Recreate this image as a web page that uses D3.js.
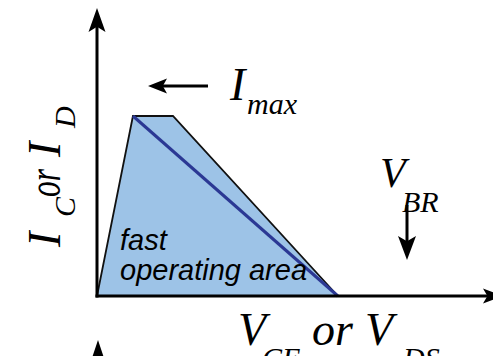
<!DOCTYPE html>
<html>
<head>
<meta charset="utf-8">
<script src="https://cdn.jsdelivr.net/npm/d3@7"></script>
<style>
  body { margin: 0; background: #fff; }
  .serif { font-family: "Liberation Serif", "Times New Roman", serif; font-style: italic; }
  .sans { font-family: "Liberation Sans", Arial, sans-serif; font-style: italic; }
</style>
</head>
<body>
<svg id="soa" width="493" height="356"></svg>
<script>
// safe operating area outline (V normalised to V_BR, I normalised to I_max)
const soaV = [0, 0.116, 0.245, 0.777];
const soaI = [0, 1, 1, 0];
// fast switching trajectory
const fastV = [0.116, 0.777];
const fastI = [1, 0];
const axisMax = { v: 1.3, i: 1.6 };

const svg = d3.select("svg#soa");
const x = d3.scaleLinear().domain([0, 1]).range([97, 407]);
const y = d3.scaleLinear().domain([0, 1]).range([296, 116]);

const line = d3.line().x(d => x(d[0])).y(d => y(d[1]));

// area
svg.append("path")
  .attr("d", line(d3.zip(soaV, soaI)) + "Z")
  .attr("fill", "#9dc3e7")
  .attr("stroke", "#111")
  .attr("stroke-width", 1.8)
  .attr("stroke-linejoin", "miter");

svg.append("path")
  .attr("d", line(d3.zip(fastV, fastI)))
  .attr("stroke", "#2b3894")
  .attr("stroke-width", 3)
  .attr("fill", "none");

// arrow head: tip at (tx,ty), pointing in angle a (deg), length L, half width w
function head(tx, ty, a, L, w) {
  const r = a * Math.PI / 180;
  const c = Math.cos(r), s = Math.sin(r);
  const pt = (u, v) => [tx - u * c - v * s, ty - u * s + v * c];
  const p = [pt(0, 0), pt(L, -w), pt(L * 0.78, 0), pt(L, w)];
  svg.append("path").attr("d", "M" + p.join("L") + "Z").attr("fill", "#000");
}

// axes
svg.append("line").attr("x1", x(0)).attr("x2", x(0))
  .attr("y1", y(0) + 1.5).attr("y2", y(axisMax.i) + 10)
  .attr("stroke", "#000").attr("stroke-width", 3);
head(x(0), y(axisMax.i), -90, 24, 8.5);

svg.append("line").attr("x1", x(0) - 1.5).attr("x2", x(axisMax.v) - 10)
  .attr("y1", y(0)).attr("y2", y(0))
  .attr("stroke", "#000").attr("stroke-width", 3);
head(x(axisMax.v) + 3, y(0), 0, 20, 7.5);

// I_max pointer
svg.append("line").attr("x1", 160).attr("x2", 208).attr("y1", 86).attr("y2", 86)
  .attr("stroke", "#000").attr("stroke-width", 3);
head(148, 86, 180, 19, 7.5);

// V_BR pointer
svg.append("line").attr("x1", x(1)).attr("x2", x(1)).attr("y1", 205).attr("y2", 250)
  .attr("stroke", "#000").attr("stroke-width", 3);
head(x(1), 260, 90, 24, 9);

// partial arrow of next panel
head(98, 340, -90, 24, 8);

// labels
const t = (px, py, txt, size, cls) => svg.append("text")
  .attr("class", cls).attr("x", px).attr("y", py)
  .attr("font-family", cls == "serif" ? "Liberation Serif, Times New Roman, serif" : "Liberation Sans, Arial, sans-serif")
  .attr("font-style", "italic")
  .attr("font-size", size).text(txt);

t(120, 250, "fast", 29, "sans");
t(120, 280, "operating area", 29, "sans");

t(230, 100, "I", 46, "serif");
t(247, 114, "max", 30, "serif");

t(380, 187, "V", 42, "serif");
t(402, 212, "BR", 30, "serif");

t(238, 345, "V", 46, "serif");
t(262, 368, "CE", 30, "serif");
t(312, 345, "or", 46, "serif");
t(365, 345, "V", 46, "serif");
t(403, 368, "DS", 30, "serif");

const yl = svg.append("g").attr("transform", "translate(60,245) rotate(-90)");
const yt = (px, py, txt, size) => yl.append("text")
  .attr("font-family", "Liberation Serif, Times New Roman, serif")
  .attr("font-style", "italic").attr("x", px).attr("y", py)
  .attr("font-size", size).text(txt);
yt(-2, 0, "I", 46);
yt(28, 15, "C", 30);
yt(48, 0, "or", 46).attr("textLength", 28).attr("lengthAdjust", "spacingAndGlyphs");
yt(88, 0, "I", 46);
yt(117, 15, "D", 30);
</script>
</body>
</html>
